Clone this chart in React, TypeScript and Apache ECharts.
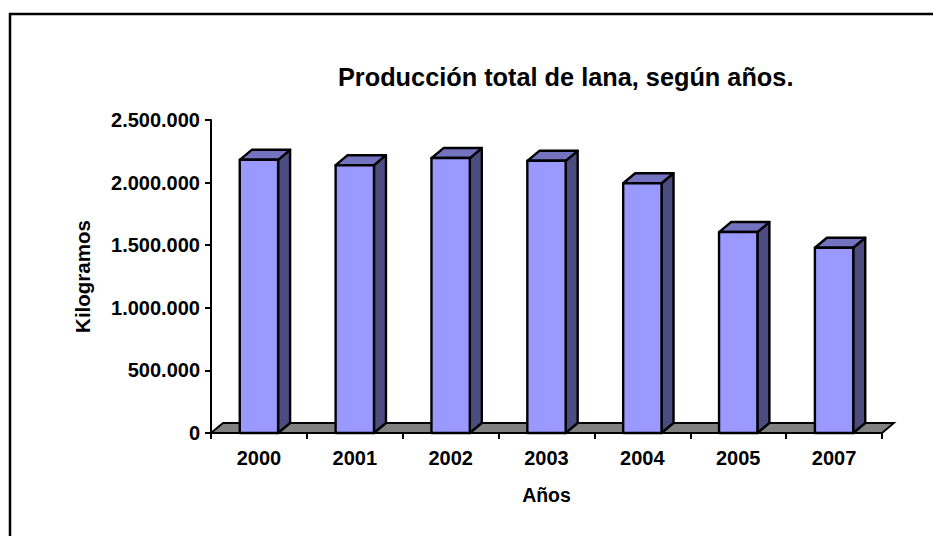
import React, { useEffect, useRef } from "react";
import * as echarts from "echarts";

const titleText = "Producción total de lana, según años.";
const categories = ["2000", "2001", "2002", "2003", "2004", "2005", "2007"];
const values = [2182000, 2139000, 2196000, 2174000, 1995000, 1605000, 1480000];
const yAxisName = "Kilogramos";
const xAxisName = "Años";
const yMax = 2500000;
const yStep = 500000;

const FONT = "'Liberation Sans', Arial, sans-serif";
const DX = 12;
const DY = 10;

function fmt(v: number): string {
  return String(Math.round(v)).replace(/\B(?=(\d{3})+(?!\d))/g, ".");
}

export default function App() {
  const ref = useRef<HTMLDivElement>(null);
  useEffect(() => {
    if (!ref.current) return;
    const chart = echarts.init(ref.current, undefined, { renderer: "svg" });
    const option: any = {
      animation: false,
      backgroundColor: "#ffffff",
      title: {
        text: titleText,
        left: 333,
        top: 59,
        textStyle: { fontFamily: FONT, fontSize: 25.3, fontWeight: "bold", color: "#000" },
      },
      graphic: [
        {
          type: "rect",
          shape: { x: 10, y: 14, width: 1200, height: 1200 },
          style: { fill: "none", stroke: "#000", lineWidth: 2.5 },
          silent: true,
          z: 100,
        },
      ],
      grid: { left: 211, right: 51, top: 120, bottom: 103, containLabel: false },
      xAxis: {
        type: "category",
        data: categories,
        name: xAxisName,
        nameLocation: "middle",
        nameGap: 52,
        nameTextStyle: { fontFamily: FONT, fontSize: 19.5, fontWeight: "bold", color: "#000" },
        axisLine: { show: true, lineStyle: { color: "#000", width: 2 } },
        axisTick: { show: true, length: 6, lineStyle: { color: "#000", width: 2 } },
        axisLabel: { margin: 15, fontFamily: FONT, fontSize: 20, fontWeight: "bold", color: "#000" },
        splitLine: { show: false },
      },
      yAxis: {
        type: "value",
        min: 0,
        max: yMax,
        interval: yStep,
        name: yAxisName,
        nameLocation: "middle",
        nameGap: 118,
        nameRotate: 90,
        nameTextStyle: { fontFamily: FONT, fontSize: 20.5, fontWeight: "bold", color: "#000" },
        axisLine: { show: true, lineStyle: { color: "#000", width: 2 } },
        axisTick: { show: true, length: 6, lineStyle: { color: "#000", width: 2 } },
        axisLabel: {
          margin: 11,
          fontFamily: FONT,
          fontSize: 20,
          fontWeight: "bold",
          color: "#000",
          formatter: (v: number) => fmt(v),
        },
        splitLine: { show: false },
      },
      series: [
        {
          type: "custom",
          name: "floor",
          z: 1,
          data: [[0, 0]],
          renderItem: (params: any, api: any) => {
            const cs = params.coordSys;
            const x0 = cs.x;
            const x1 = cs.x + cs.width;
            const y0 = cs.y + cs.height;
            return {
              type: "polygon",
              shape: {
                points: [
                  [x0, y0],
                  [x0 + DX, y0 - DY],
                  [x1 + DX, y0 - DY],
                  [x1, y0],
                ],
              },
              style: { fill: "#808080", stroke: "#000", lineWidth: 1.8 },
            };
          },
        },
        {
          type: "custom",
          name: "Kilogramos",
          z: 3,
          data: values.map((v, i) => [i, v]),
          renderItem: (params: any, api: any) => {
            const idx = api.value(0);
            const v = api.value(1);
            const top = api.coord([idx, v]);
            const base = api.coord([idx, 0]);
            const bw = api.size([1, 0])[0] * 0.4;
            const xl = top[0] - bw / 2;
            const xr = top[0] + bw / 2;
            const yt = top[1];
            const yb = base[1];
            const stroke = { stroke: "#000", lineWidth: 2.4, lineJoin: "round" };
            return {
              type: "group",
              children: [
                {
                  type: "polygon",
                  shape: {
                    points: [
                      [xr, yt],
                      [xr + DX, yt - DY],
                      [xr + DX, yb - DY],
                      [xr, yb],
                    ],
                  },
                  style: { fill: "#4c4c80", ...stroke },
                },
                {
                  type: "polygon",
                  shape: {
                    points: [
                      [xl, yt],
                      [xl + DX, yt - DY],
                      [xr + DX, yt - DY],
                      [xr, yt],
                    ],
                  },
                  style: { fill: "#7373c0", ...stroke },
                },
                {
                  type: "rect",
                  shape: { x: xl, y: yt, width: bw, height: yb - yt },
                  style: { fill: "#9999ff", ...stroke },
                },
              ],
            };
          },
        },
      ],
    };
    chart.setOption(option);
    return () => chart.dispose();
  }, []);
  return (
    <div
      ref={ref}
      style={{ position: "fixed", left: 0, top: 0, width: 933, height: 536 }}
    />
  );
}
